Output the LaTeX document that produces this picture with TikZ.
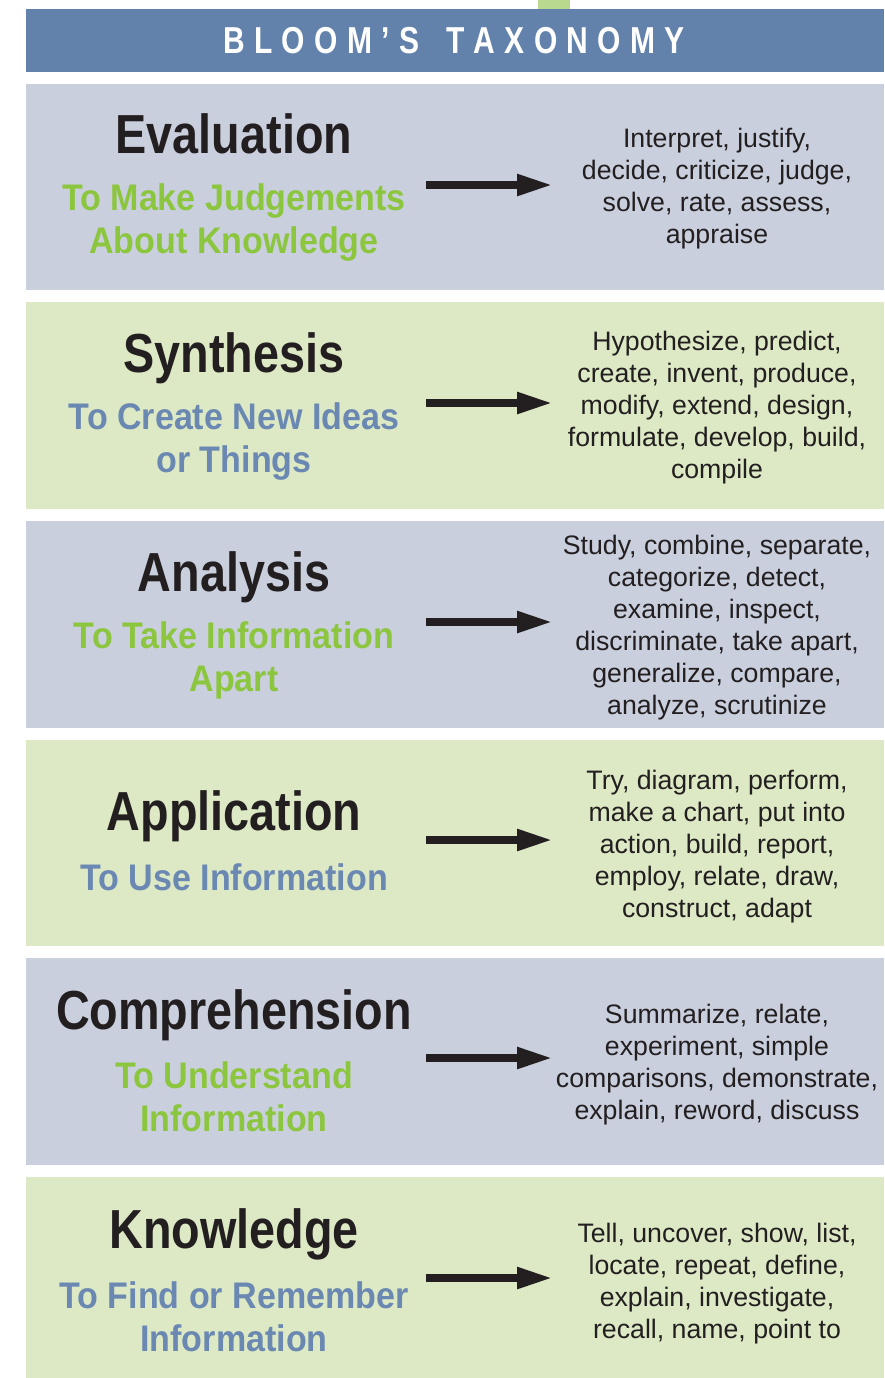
\documentclass[tikz,border=0pt]{standalone}
\usepackage{fontspec}
\setmainfont{Liberation Sans}
\newfontfamily\titlefont[FakeStretch=0.85]{Liberation Sans}
\newfontfamily\headfont[FakeStretch=0.8]{Liberation Sans}
\newfontfamily\subfont[FakeStretch=0.92]{Liberation Sans}
\newfontfamily\descfont{Liberation Sans}
\usetikzlibrary{arrows.meta}
\definecolor{hdrblue}{HTML}{6382AB}
\definecolor{lav}{HTML}{CACFDE}
\definecolor{lgreen}{HTML}{DCE9C4}
\definecolor{tabgreen}{HTML}{B9DA8E}
\definecolor{gtext}{HTML}{8CC63F}
\definecolor{btext}{HTML}{6A88B2}
\definecolor{ink}{HTML}{231F20}
\newcommand{\lsp}{\kern 9.3pt}
\tikzset{
  band/.style={draw=none, inner sep=0pt, anchor=north west, minimum width=858pt},
  ttl/.style={inner sep=0pt, text=ink, font=\titlefont\bfseries\fontsize{55}{60}\selectfont, text height=39.4pt, text depth=0pt},
  sub/.style={inner sep=0pt, align=center, font=\subfont\bfseries\fontsize{37}{43}\selectfont},
  desc/.style={inner sep=0pt, align=center, text=ink, font=\descfont\fontsize{26.7}{32}\selectfont},
  bigarrow/.style={draw=ink, line width=8pt, -{Triangle[length=36pt,width=20pt]}}
}
\begin{document}
\begin{tikzpicture}[x=1pt,y=-1pt]
\useasboundingbox (0,0) rectangle (884,1378);
% header
\node[band, fill=tabgreen, minimum width=32pt, minimum height=9pt] (tab) at (538,0) {};
\node[band, fill=hdrblue, minimum height=63pt] (hdr) at (26,9) {};
\node[inner sep=0pt, text=white, font=\headfont\bfseries\fontsize{37.5}{40}\selectfont, text height=27pt, text depth=0pt] (hdrtxt) at (454,40.5)
  {B\lsp L\lsp O\lsp O\lsp M\lsp ’\lsp S\lsp\ \lsp T\lsp A\lsp X\lsp O\lsp N\lsp O\lsp M\lsp Y};
% bands
\node[band, fill=lav,    minimum height=206pt] (b1) at (26,84) {};
\node[band, fill=lgreen, minimum height=207pt] (b2) at (26,302) {};
\node[band, fill=lav,    minimum height=207pt] (b3) at (26,521) {};
\node[band, fill=lgreen, minimum height=206pt] (b4) at (26,740) {};
\node[band, fill=lav,    minimum height=207pt] (b5) at (26,958) {};
\node[band, fill=lgreen, minimum height=201pt] (b6) at (26,1177) {};
% Evaluation
\node[ttl] (t1) at (234,134) {Evaluation};
\node[sub, text=gtext] (s1) at (234,222.5) {To Make Judgements\\About Knowledge};
\node[desc] (d1) at (717,189) {Interpret, justify,\\decide, criticize, judge,\\solve, rate, assess,\\appraise};
\coordinate (a1s) at (426,185); \coordinate (a1e) at (553,185);
\draw[bigarrow] (a1s) -- (a1e);
% Synthesis
\node[ttl] (t2) at (234,353) {Synthesis};
\node[sub, text=btext] (s2) at (234,441.5) {To Create New Ideas\\or Things};
\node[desc] (d2) at (717,408) {Hypothesize, predict,\\create, invent, produce,\\modify, extend, design,\\formulate, develop, build,\\compile};
\coordinate (a2s) at (426,403); \coordinate (a2e) at (553,403);
\draw[bigarrow] (a2s) -- (a2e);
% Analysis
\node[ttl] (t3) at (234,572) {Analysis};
\node[sub, text=gtext] (s3) at (234,660) {To Take Information\\Apart};
\node[desc] (d3) at (717,628) {Study, combine, separate,\\categorize, detect,\\examine, inspect,\\discriminate, take apart,\\generalize, compare,\\analyze, scrutinize};
\coordinate (a3s) at (426,622); \coordinate (a3e) at (553,622);
\draw[bigarrow] (a3s) -- (a3e);
% Application
\node[ttl] (t4) at (234,811) {Application};
\node[sub, text=btext] (s4) at (234,877) {To Use Information};
\node[desc] (d4) at (717,847) {Try, diagram, perform,\\make a chart, put into\\action, build, report,\\employ, relate, draw,\\construct, adapt};
\coordinate (a4s) at (426,840); \coordinate (a4e) at (553,840);
\draw[bigarrow] (a4s) -- (a4e);
% Comprehension
\node[ttl] (t5) at (234,1010) {Comprehension};
\node[sub, text=gtext] (s5) at (234,1097) {To Understand\\Information};
\node[desc] (d5) at (717,1065) {Summarize, relate,\\experiment, simple\\comparisons, demonstrate,\\explain, reword, discuss};
\coordinate (a5s) at (426,1058); \coordinate (a5e) at (553,1058);
\draw[bigarrow] (a5s) -- (a5e);
% Knowledge
\node[ttl] (t6) at (234,1229) {Knowledge};
\node[sub, text=btext] (s6) at (234,1317) {To Find or Remember\\Information};
\node[desc] (d6) at (717,1284) {Tell, uncover, show, list,\\locate, repeat, define,\\explain, investigate,\\recall, name, point to};
\coordinate (a6s) at (426,1278); \coordinate (a6e) at (553,1278);
\draw[bigarrow] (a6s) -- (a6e);
\end{tikzpicture}
\end{document}
